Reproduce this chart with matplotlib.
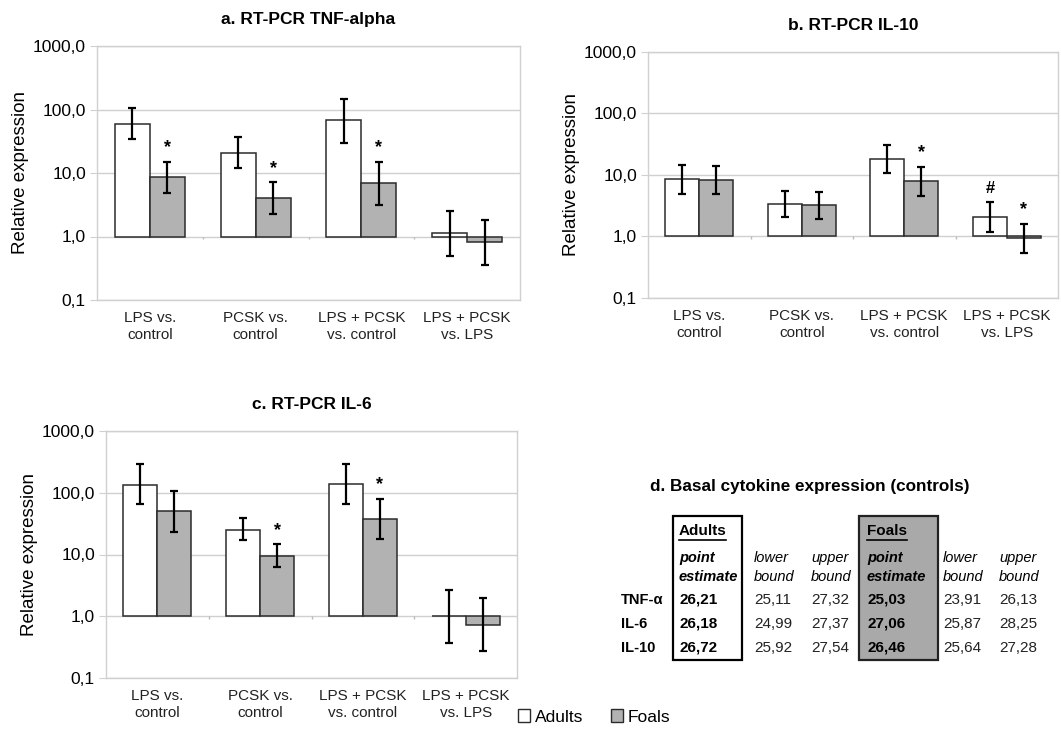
import numpy as np
import matplotlib
matplotlib.use("Agg")
import matplotlib.pyplot as plt
from matplotlib.patches import Patch, Rectangle
from matplotlib.ticker import FixedLocator, FuncFormatter

plt.rcParams['font.family'] = ['Liberation Sans', 'DejaVu Sans']

categories = ["LPS vs.\ncontrol", "PCSK vs.\ncontrol", "LPS + PCSK\nvs. control", "LPS + PCSK\nvs. LPS"]

# Panel a: TNF-alpha
tnf_adult = [60, 21, 68, 1.13]
tnf_adult_lo = [34, 12.2, 30, 0.50]
tnf_adult_hi = [107, 37, 145, 2.5]
tnf_foal = [8.5, 4.0, 6.9, 0.81]
tnf_foal_lo = [4.8, 2.25, 3.15, 0.36]
tnf_foal_hi = [15, 7.1, 15, 1.83]
tnf_adult_mark = ["", "", "", ""]
tnf_foal_mark = ["*", "*", "*", ""]

# Panel b: IL-10
il10_adult = [8.6, 3.4, 18.4, 2.1]
il10_adult_lo = [5.0, 2.06, 10.8, 1.2]
il10_adult_hi = [14.3, 5.4, 30.6, 3.7]
il10_foal = [8.3, 3.2, 8.0, 0.95]
il10_foal_lo = [4.85, 1.93, 4.6, 0.53]
il10_foal_hi = [14, 5.3, 13.5, 1.6]
il10_adult_mark = ["", "", "", "#"]
il10_foal_mark = ["", "", "*", "*"]

# Panel c: IL-6
il6_adult = [136, 25.4, 140, 1.01]
il6_adult_lo = [65, 17, 65, 0.365]
il6_adult_hi = [292, 39, 288, 2.64]
il6_foal = [50.5, 9.6, 38, 0.72]
il6_foal_lo = [23, 6.2, 17.7, 0.27]
il6_foal_hi = [108, 14.7, 79, 1.96]
il6_adult_mark = ["", "", "", ""]
il6_foal_mark = ["", "*", "*", ""]

# Panel d: table
table_rows = ["TNF-α", "IL-6", "IL-10"]
adult_point = ["26,21", "26,18", "26,72"]
adult_lower = ["25,11", "24,99", "25,92"]
adult_upper = ["27,32", "27,37", "27,54"]
foal_point = ["25,03", "27,06", "26,46"]
foal_lower = ["23,91", "25,87", "25,64"]
foal_upper = ["26,13", "28,25", "27,28"]

yticks = [0.1, 1, 10, 100, 1000]
FOAL_COLOR = "#b2b2b2"
EDGE = "#2b2b2b"
GRID = "#d0d0d0"

W, H = 1061, 752
fig = plt.figure(figsize=(W / 100, H / 100), dpi=100)


def px_axes(x0, y0, x1, y1):
    return fig.add_axes([x0 / W, 1 - y1 / H, (x1 - x0) / W, (y1 - y0) / H])


def panel(ax, title, adult, alo, ahi, foal, flo, fhi, amark, fmark):
    x = np.arange(len(categories))
    w = 0.33
    for vals, lo, hi, marks, off, color in [
        (adult, alo, ahi, amark, -w / 2, "white"),
        (foal, flo, fhi, fmark, w / 2, FOAL_COLOR),
    ]:
        vals = np.array(vals, float)
        ax.bar(x + off, vals - 1, bottom=1, width=w, color=color,
               edgecolor=EDGE, linewidth=1.1, zorder=3)
        yerr = [vals - np.array(lo), np.array(hi) - vals]
        ax.errorbar(x + off, vals, yerr=yerr, fmt="none", ecolor="black",
                    elinewidth=1.6, capsize=3, capthick=1.6, zorder=4)
        for xi, h, m in zip(x + off, hi, marks):
            if m:
                ax.annotate(m, (xi, h), xytext=(0, 4), textcoords="offset points",
                            ha="center", va="bottom", fontsize=13 if m == "*" else 12,
                            fontweight="bold", zorder=5)
    ax.set_yscale("log")
    ax.set_ylim(0.1, 1000)
    ax.set_xlim(-0.5, len(categories) - 0.5)
    ax.yaxis.set_major_locator(FixedLocator(yticks))
    ax.yaxis.set_minor_locator(FixedLocator([]))
    ax.yaxis.set_major_formatter(FuncFormatter(lambda v, p: f"{v:.1f}".replace(".", ",")))
    ax.grid(axis="y", color=GRID, linewidth=1, zorder=0)
    ax.set_axisbelow(True)
    ax.set_xticks(x)
    ax.set_xticklabels(categories, fontsize=11, color="#222222", linespacing=1.3)
    ax.tick_params(axis="x", length=0, pad=8)
    ax.tick_params(axis="y", labelsize=12.5, length=5, color=GRID, pad=3)
    for s in ax.spines.values():
        s.set_color(GRID)
        s.set_linewidth(1)
    # category separator tick marks on the y=1 axis line
    bounds = np.arange(len(categories) - 1) + 0.5
    ax.vlines(bounds, 0.9, 1.0, color="#bbbbbb", linewidth=1, zorder=2)
    ax.set_ylabel("Relative expression", fontsize=13.5, labelpad=3)
    ax.set_title(title, fontsize=12.5, fontweight="bold", pad=16)


ax_a = px_axes(97, 46, 520, 300)
panel(ax_a, "a. RT-PCR TNF-alpha", tnf_adult, tnf_adult_lo, tnf_adult_hi,
      tnf_foal, tnf_foal_lo, tnf_foal_hi, tnf_adult_mark, tnf_foal_mark)
ax_b = px_axes(648, 52, 1058, 298)
panel(ax_b, "b. RT-PCR IL-10", il10_adult, il10_adult_lo, il10_adult_hi,
      il10_foal, il10_foal_lo, il10_foal_hi, il10_adult_mark, il10_foal_mark)
ax_c = px_axes(106, 431, 517, 678)
panel(ax_c, "c. RT-PCR IL-6", il6_adult, il6_adult_lo, il6_adult_hi,
      il6_foal, il6_foal_lo, il6_foal_hi, il6_adult_mark, il6_foal_mark)

# Panel d: table drawn in figure pixel coordinates
axd = fig.add_axes([0, 0, 1, 1], facecolor="none")
axd.set_xlim(0, W)
axd.set_ylim(H, 0)
axd.axis("off")
axd.text(810, 487, "d. Basal cytokine expression (controls)", ha="center", va="center",
         fontsize=12.3, fontweight="bold")
axd.add_patch(Rectangle((673, 516), 69, 144, facecolor="white", edgecolor="black", linewidth=1.6))
axd.add_patch(Rectangle((859, 516), 79, 144, facecolor="#a9a9a9", edgecolor="#222222", linewidth=1.6))
axd.text(679, 531, "Adults", ha="left", va="center", fontsize=11, fontweight="bold")
axd.plot([679, 726], [540, 540], color="black", linewidth=1.2)
axd.text(867, 531, "Foals", ha="left", va="center", fontsize=11, fontweight="bold")
axd.plot([867, 907], [540, 540], color="black", linewidth=1.2)

hdr_y1, hdr_y2 = 558, 577
col_x = [679, 754, 811, 867, 943, 999]
heads = [("point", "estimate", "bold"), ("lower", "bound", "normal"), ("upper", "bound", "normal"),
         ("point", "estimate", "bold"), ("lower", "bound", "normal"), ("upper", "bound", "normal")]
for cx, (h1, h2, fw) in zip(col_x, heads):
    axd.text(cx, hdr_y1, h1, ha="left", va="center", fontsize=10.5, style="italic", fontweight=fw)
    axd.text(cx, hdr_y2, h2, ha="left", va="center", fontsize=10.5, style="italic", fontweight=fw)

row_y = [600, 624, 648]
cols = [adult_point, adult_lower, adult_upper, foal_point, foal_lower, foal_upper]
weights = ["bold", "normal", "normal", "bold", "normal", "normal"]
for ry, rl in zip(row_y, table_rows):
    axd.text(621, ry, rl, ha="left", va="center", fontsize=10.5, fontweight="bold")
for cx, col, fw in zip(col_x, cols, weights):
    for ry, v in zip(row_y, col):
        axd.text(cx, ry, v, ha="left", va="center", fontsize=11, fontweight=fw,
                 color="black" if fw == "bold" else "#222222")

handles = [Patch(facecolor="white", edgecolor=EDGE, linewidth=1, label="Adults"),
           Patch(facecolor=FOAL_COLOR, edgecolor=EDGE, linewidth=1, label="Foals")]
fig.legend(handles=handles, loc="center", bbox_to_anchor=(594 / W, 1 - 717 / H), ncol=2,
           frameon=False, fontsize=12.5, handlelength=0.7, handleheight=0.7,
           handletextpad=0.25, columnspacing=1.6)

fig.savefig("out.png", dpi=100, facecolor="white")
